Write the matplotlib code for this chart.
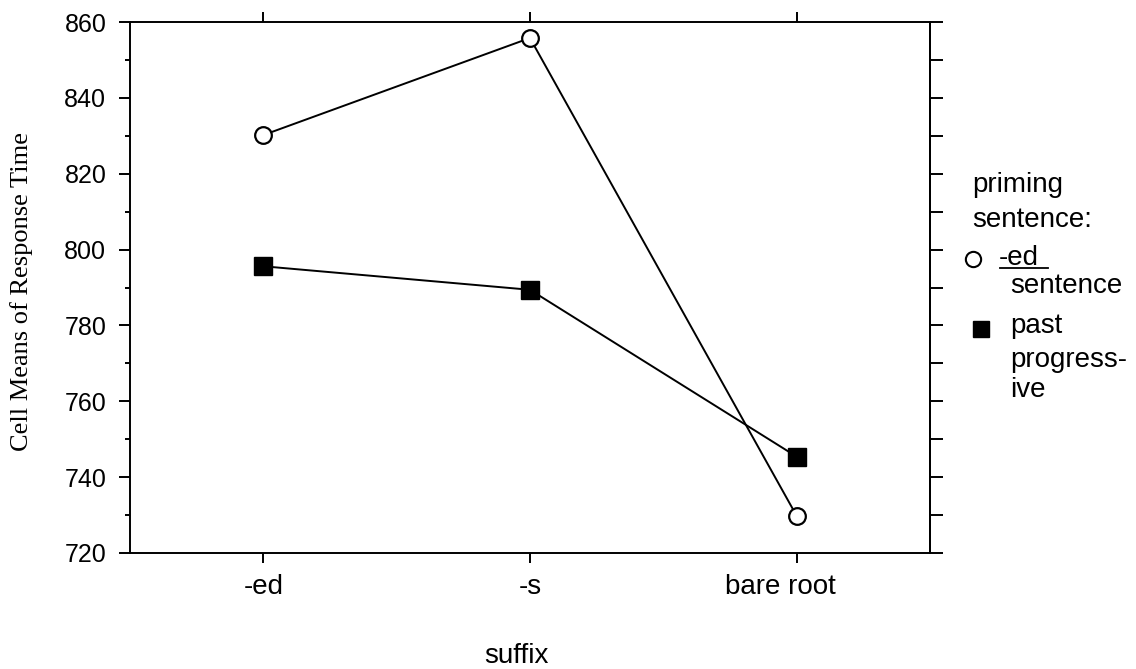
import numpy as np
import matplotlib
matplotlib.use("Agg")
import matplotlib.pyplot as plt
from matplotlib.ticker import MultipleLocator
from matplotlib.lines import Line2D
from matplotlib.transforms import ScaledTranslation

# ── data ──────────────────────────────────────────────────────────────────────
suffixes = ["-ed", "-s", "bare root"]
ed_sentence = [830.2, 855.8, 729.8]
past_progressive = [795.6, 789.4, 745.4]

plt.rcParams["font.family"] = ["Liberation Sans", "DejaVu Sans"]

fig = plt.figure(figsize=(11.36, 6.69), dpi=100)
ax = fig.add_axes([0.1144, 0.1735, 0.7042, 0.7935])

x = np.arange(len(suffixes))
ax.plot(x, ed_sentence, color="black", linewidth=1.4, marker="o", markersize=12,
        markerfacecolor="white", markeredgecolor="black", markeredgewidth=1.6, zorder=3)
ax.plot(x, past_progressive, color="black", linewidth=1.4, marker="s", markersize=13,
        markerfacecolor="black", markeredgecolor="black", zorder=3)

ax.set_xlim(-0.5, 2.5)
ax.set_ylim(720, 860)

# x ticks on bottom and top, outward
ax.set_xticks(x)
ax.set_xticklabels(suffixes, fontsize=20)
ax.tick_params(axis="x", which="major", direction="out", length=7.5, width=1.4,
               top=True, pad=8)

# left: labelled majors every 20, short minors every 10; right: every 10
ax.yaxis.set_major_locator(MultipleLocator(20))
ax.yaxis.set_minor_locator(MultipleLocator(10))
ax.tick_params(axis="y", which="major", direction="out", length=8, width=1.4,
               labelsize=18, pad=9)
ax.tick_params(axis="y", which="minor", direction="out", length=3.5, width=1.4)

# the original has "bare root" set a little left of its tick
lbl = ax.get_xticklabels()[2]
lbl.set_transform(lbl.get_transform() + ScaledTranslation(-0.16, 0, fig.dpi_scale_trans))

sec = ax.secondary_yaxis("right")
sec.yaxis.set_major_locator(MultipleLocator(10))
sec.tick_params(axis="y", direction="out", length=9, width=1.4, labelright=False)
sec.spines["right"].set_linewidth(1.4)

for s in ax.spines.values():
    s.set_linewidth(1.4)

ax.set_ylabel("Cell Means of Response Time", family=["Liberation Serif", "DejaVu Serif"],
              fontsize=19)
ax.yaxis.set_label_coords(-0.121, 0.493)
fig.text(0.455, 0.009, "suffix", fontsize=20, ha="center", va="baseline")

# ── legend drawn by hand ──────────────────────────────────────────────────────
fs = 20
fig.text(0.8555, 0.713, "priming", fontsize=fs, va="baseline")
fig.text(0.8555, 0.661, "sentence:", fontsize=fs, va="baseline")
fig.add_artist(Line2D([0.8565], [0.6129], marker="o", markersize=11, markerfacecolor="white",
                      markeredgecolor="black", markeredgewidth=1.5, transform=fig.transFigure))
fig.text(0.8795, 0.604, "-ed", fontsize=fs, va="baseline")
fig.add_artist(Line2D([0.8803, 0.9225], [0.5994, 0.5994], color="black", linewidth=1.3,
                      transform=fig.transFigure))
fig.text(0.8895, 0.562, "sentence", fontsize=fs, va="baseline")
fig.add_artist(Line2D([0.8636], [0.5082], marker="s", markersize=12, markerfacecolor="black",
                      markeredgecolor="black", transform=fig.transFigure))
fig.text(0.8895, 0.502, "past", fontsize=fs, va="baseline")
fig.text(0.8895, 0.4514, "progress-", fontsize=fs, va="baseline")
fig.text(0.8895, 0.4066, "ive", fontsize=fs, va="baseline")

plt.savefig("out.png", dpi=100)
plt.close()
